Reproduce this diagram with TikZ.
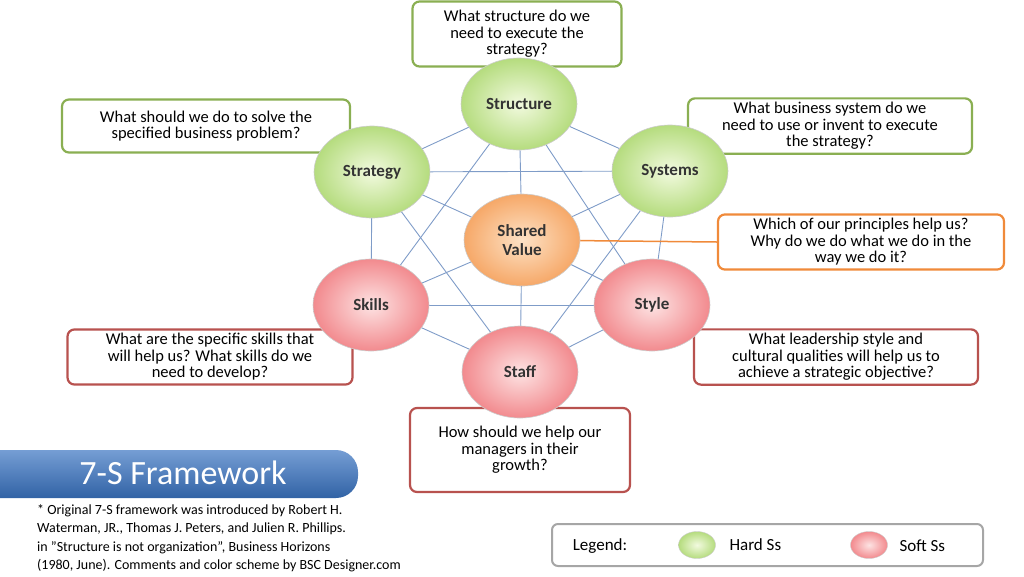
\documentclass[tikz,border=0pt]{standalone}
\usepackage{fontspec}
\setmainfont{Carlito}
\usetikzlibrary{shapes.geometric}
\definecolor{hardo}{HTML}{B5DC7E}
\definecolor{hardi}{HTML}{F2FADF}
\definecolor{softo}{HTML}{F28A8E}
\definecolor{softi}{HTML}{FDE3E3}
\definecolor{svo}{HTML}{F6A868}
\definecolor{svi}{HTML}{FDE2C6}
\definecolor{gb}{HTML}{8AAF52}
\definecolor{rb}{HTML}{B8524F}
\definecolor{ob}{HTML}{F08A3A}
\definecolor{ln}{HTML}{7F9CC8}
\definecolor{bl}{HTML}{3A74C2}
\tikzset{
 sball/.style={ellipse,minimum width=116pt,minimum height=92pt,draw=white!80!black,line width=0.6pt,font=\fontsize{17}{19}\selectfont\bfseries,align=center,text=black!80},
 hard/.style={sball,inner color=hardi,outer color=hardo},
 soft/.style={sball,inner color=softi,outer color=softo},
 qbox/.style={draw,line width=2.2pt,rounded corners=7pt,fill=white,align=center,font=\fontsize{16.5}{16.5}\selectfont,inner sep=4pt},
 link/.style={ln,line width=0.9pt}
}
\begin{document}
\begin{tikzpicture}[x=1pt,y=-1pt]
\useasboundingbox (0,0) rectangle (1024,576);
\node[qbox,draw=gb,minimum width=209pt,minimum height=65pt] (qst) at (517,34) {What structure do we\\need to execute the\\strategy?};
\node[qbox,draw=gb,minimum width=288pt,minimum height=53pt] (qstr) at (206,126) {What should we do to solve the\\specified business problem?};
\node[qbox,draw=gb,minimum width=284pt,minimum height=53pt] (qsys) at (830,126) {What business system do we\\need to use or invent to execute\\the strategy?};
\node[qbox,draw=ob,minimum width=286pt,minimum height=53pt] (qsv) at (861,242) {Which of our principles help us?\\Why do we do what we do in the\\way we do it?};
\node[qbox,draw=rb,minimum width=285pt,minimum height=54pt] (qsk) at (210,357) {What are the specific skills that\\will help us? What skills do we\\need to develop?};
\node[qbox,draw=rb,minimum width=284pt,minimum height=54pt] (qsty) at (836,357) {What leadership style and\\cultural qualities will help us to\\achieve a strategic objective?};
\node[qbox,draw=rb,minimum width=220pt,minimum height=84pt] (qsta) at (520,450) {How should we help our\\managers in their\\growth?};
\coordinate (pst) at (519,104);
\coordinate (pstr) at (372,172);
\coordinate (psys) at (670,171);
\coordinate (psv) at (522,240);
\coordinate (psk) at (371,305);
\coordinate (psty) at (652,305);
\coordinate (psta) at (520,372);
\foreach \a/\b in {pst/pstr,pst/psys,pst/psv,pst/psk,pst/psty,pstr/psys,pstr/psk,pstr/psv,pstr/psta,psys/psv,psys/psty,psys/psta,psk/psv,psk/psty,psk/psta,psty/psv,psty/psta,psta/psv}
  \draw[link] (\a) -- (\b);
\draw[ob,line width=1.5pt] (psv) -- (qsv.west);
\node[hard] (st) at (pst) {Structure};
\node[hard] (str) at (pstr) {Strategy};
\node[hard] (sys) at (psys) {Systems};
\node[sball,inner color=svi,outer color=svo] (sv) at (psv) {Shared\\Value};
\node[soft] (sk) at (psk) {Skills};
\node[soft] (sty) at (psty) {Style};
\node[soft] (sta) at (psta) {Staff};
\shade[top color=bl!70!white,bottom color=bl!85!black,rounded corners=22pt] (-30,450) rectangle (358,498);
\node[text=white,font=\fontsize{34}{36}\selectfont] (ban) at (183,473) {7-S Framework};
\node[anchor=north west,align=left,font=\fontsize{14}{18.5}\selectfont,inner sep=0pt] (foot) at (37,504) {* Original 7-S framework was introduced by Robert H.\\Waterman, JR., Thomas J. Peters, and Julien R. Phillips.\\in "Structure is not organization", Business Horizons\\(1980, June). Comments and color scheme by BSC Designer.com};
\draw[black!35,line width=2pt,rounded corners=6pt,fill=white] (552,524) rectangle (983,566);
\node[font=\fontsize{17}{19}\selectfont] (lg) at (600,546) {Legend:};
\node[ellipse,minimum width=37pt,minimum height=27pt,draw=white!80!black,inner color=hardi,outer color=hardo] (lh) at (697,545) {};
\node[font=\fontsize{17}{19}\selectfont,anchor=west] (lht) at (726,545) {Hard Ss};
\node[ellipse,minimum width=37pt,minimum height=27pt,draw=white!80!black,inner color=softi,outer color=softo] (ls) at (869,545) {};
\node[font=\fontsize{17}{19}\selectfont,anchor=west] (lst) at (896,546) {Soft Ss};
\end{tikzpicture}
\end{document}
